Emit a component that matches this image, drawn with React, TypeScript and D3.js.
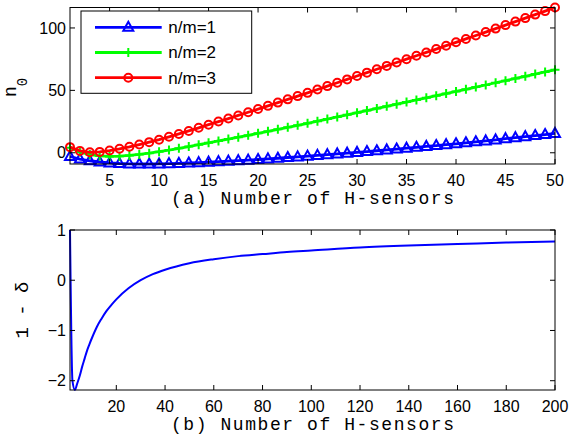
import React from 'react';
import * as d3 from 'd3';

// (a) n0 versus number of H-sensors, one value per sensor count 1..50
const sensorsA = d3.range(1, 51);

const nm1 = [
  -3.0, -5.0, -6.4, -7.4, -8.1, -8.6, -8.9, -9.0, -9.0, -8.9,
  -8.7, -8.5, -8.2, -7.9, -7.5, -7.1, -6.7, -6.3, -5.9, -5.4,
  -4.9, -4.4, -3.8, -3.3, -2.7, -2.1, -1.5, -0.9, -0.3, 0.3,
  1.0, 1.6, 2.3, 3.0, 3.7, 4.4, 5.1, 5.8, 6.5, 7.2,
  8.0, 8.8, 9.5, 10.3, 11.3, 12.1, 12.9, 13.8, 14.6, 15.5
];

const nm2 = [
  4.0, 0.6, -1.4, -2.5, -2.9, -2.7, -2.1, -1.3, -0.3, 0.9,
  2.2, 3.6, 5.0, 6.5, 8.0, 9.5, 11.0, 12.5, 14.0, 15.6,
  17.2, 18.8, 20.4, 22.0, 23.6, 25.3, 27.0, 28.7, 30.4, 32.1,
  33.8, 35.5, 37.2, 38.9, 40.6, 42.3, 44.0, 45.7, 47.4, 49.1,
  50.8, 52.6, 54.3, 56.1, 57.8, 59.6, 61.3, 63.1, 64.8, 66.5
];

const nm3 = [
  4.5, 1.5, 0.4, 0.7, 1.8, 3.2, 4.8, 6.6, 8.5, 10.5,
  12.8, 15.1, 17.5, 20.0, 22.5, 25.0, 27.4, 29.9, 32.5, 35.0,
  37.6, 40.2, 42.8, 45.4, 48.0, 50.7, 53.4, 56.1, 58.8, 61.5,
  64.2, 66.9, 69.6, 72.3, 75.0, 77.7, 80.4, 83.1, 85.8, 88.5,
  91.2, 94.0, 96.7, 99.5, 102.3, 105.1, 107.9, 110.7, 113.5, 116.4
];

const ticksXA = [5, 10, 15, 20, 25, 30, 35, 40, 45, 50];
const ticksYA = [0, 50, 100];

// (b) 1 - delta versus number of H-sensors
const sensorsB = [1, 2, 3, 4, 5, 6, 7, 8, 9, 10, 12, 14, 16, 18, 20, 25, 30, 35, 40, 50, 60, 70, 80, 90, 100, 120, 140, 160, 180, 200];
const oneMinusDelta = [1, -2.0, -2.185, -2.05, -1.9, -1.72, -1.56, -1.4, -1.27, -1.15, -0.93, -0.76, -0.61, -0.49, -0.38, -0.16, 0.0, 0.12, 0.21, 0.34, 0.42, 0.48, 0.52, 0.56, 0.59, 0.65, 0.69, 0.72, 0.75, 0.77];

const ticksXB = [20, 40, 60, 80, 100, 120, 140, 160, 180, 200];
const ticksYB = [-2, -1, 0, 1];

const series = [
  { name: 'n/m=1', values: nm1, color: '#0000ff', marker: 'triangle' },
  { name: 'n/m=2', values: nm2, color: '#00ff00', marker: 'plus' },
  { name: 'n/m=3', values: nm3, color: '#ff0000', marker: 'circle' }
];

const sans = '"Liberation Sans", Arial, Helvetica, sans-serif';
const mono = '"Liberation Mono", "Courier New", monospace';

const left = 70;
const right = 555;

const Marker = ({ kind, x, y, color }: { kind: string, x: number, y: number, color: string }) => {
  if (kind === 'circle') {
    return <circle cx={x} cy={y} r={4} fill="none" stroke={color} strokeWidth={2} />;
  }
  if (kind === 'plus') {
    return <path d={`M${x - 4.5},${y}H${x + 4.5}M${x},${y - 4.5}V${y + 4.5}`} stroke={color} strokeWidth={2} />;
  }
  return <path d={`M${x},${y - 5.5}L${x + 5},${y + 3.5}L${x - 5},${y + 3.5}Z`} fill="none" stroke={color} strokeWidth={2} />;
};

const Frame = ({ x, y, xTicks, yTicks, yFmt }: any) => {
  const [x0, x1] = x.range();
  const [y1, y0] = y.range();
  const tl = 5;
  return (
    <g>
      <rect x={x0} y={y0} width={x1 - x0} height={y1 - y0} fill="none" stroke="#000" strokeWidth={1} />
      {xTicks.map((t: number) => (
        <g key={'x' + t}>
          <line x1={x(t)} x2={x(t)} y1={y1} y2={y1 - tl} stroke="#000" />
          <line x1={x(t)} x2={x(t)} y1={y0} y2={y0 + tl} stroke="#000" />
        </g>
      ))}
      {yTicks.map((t: number) => (
        <g key={'y' + t}>
          <line x1={x0} x2={x0 + tl} y1={y(t)} y2={y(t)} stroke="#000" />
          <line x1={x1} x2={x1 - tl} y1={y(t)} y2={y(t)} stroke="#000" />
          <text x={x0 - 4} y={y(t)} dy="0.35em" textAnchor="end" fontFamily={sans} fontSize={16}>{yFmt(t)}</text>
        </g>
      ))}
    </g>
  );
};

export default function App() {
  const xA = d3.scaleLinear().domain([1, 50]).range([left, right]);
  const yA = d3.scaleLinear().domain([-9, 116.4]).range([164, 7.5]);
  const xB = d3.scaleLinear().domain([1, 200]).range([left, right]);
  const yB = d3.scaleLinear().domain([-2.185, 1]).range([390, 230]);

  const lineA = (vals: number[]) => d3.line<number>().x((_, i) => xA(sensorsA[i])).y(d => yA(d))(vals) || '';
  const lineB = d3.line<number>().x((_, i) => xB(sensorsB[i])).y(d => yB(d)).curve(d3.curveMonotoneX)(oneMinusDelta) || '';

  const fmt = (t: number) => (t < 0 ? '\u2212' + Math.abs(t) : String(t));
  const xlabelLen = 283;

  return (
    <svg width={569} height={439} style={{ position: 'absolute', left: 0, top: 0, background: '#fff' }}>
      <rect width={569} height={439} fill="#fff" />

      {/* top panel */}
      {series.map(s => (
        <g key={s.name}>
          <path d={lineA(s.values)} fill="none" stroke={s.color} strokeWidth={2.8} />
          {s.values.map((v, i) => (
            <Marker key={i} kind={s.marker} x={xA(sensorsA[i])} y={yA(v)} color={s.color} />
          ))}
        </g>
      ))}
      <Frame x={xA} y={yA} xTicks={ticksXA} yTicks={ticksYA} yFmt={fmt} />
      {ticksXA.map(t => (
        <text key={t} x={xA(t)} y={186} textAnchor="middle" fontFamily={sans} fontSize={16}>{t}</text>
      ))}
      <text x={(left + right) / 2} y={204} textAnchor="middle" fontFamily={mono} fontSize={18}
        textLength={xlabelLen} lengthAdjust="spacing">(a) Number of H-sensors</text>
      <text transform="translate(16,97) rotate(-90)" fontFamily={mono} fontSize={18}>
        n<tspan fontSize={14} dy={11}>0</tspan>
      </text>

      {/* legend */}
      <g>
        <rect x={81} y={11} width={170.7} height={82.3} fill="#fff" stroke="#000" strokeWidth={1} />
        {series.map((s, i) => {
          const ly = 27.3 + i * 25.2;
          return (
            <g key={s.name}>
              <line x1={95} x2={161.7} y1={ly} y2={ly} stroke={s.color} strokeWidth={2.8} />
              <Marker kind={s.marker} x={128.3} y={ly} color={s.color} />
              <text x={168.3} y={ly} dy="0.35em" fontFamily={sans} fontSize={17}>{s.name}</text>
            </g>
          );
        })}
      </g>

      {/* bottom panel */}
      <path d={lineB} fill="none" stroke="#0000ff" strokeWidth={2} />
      <Frame x={xB} y={yB} xTicks={ticksXB} yTicks={ticksYB} yFmt={fmt} />
      {ticksXB.map(t => (
        <text key={t} x={xB(t)} y={411.5} textAnchor="middle" fontFamily={sans} fontSize={16}>{t}</text>
      ))}
      <text x={(left + right) / 2} y={430} textAnchor="middle" fontFamily={mono} fontSize={18}
        textLength={xlabelLen} lengthAdjust="spacing">(b) Number of H-sensors</text>
      <text transform="translate(28,310) rotate(-90)" textAnchor="middle" fontFamily={mono} fontSize={19}>1 - δ</text>
    </svg>
  );
}
